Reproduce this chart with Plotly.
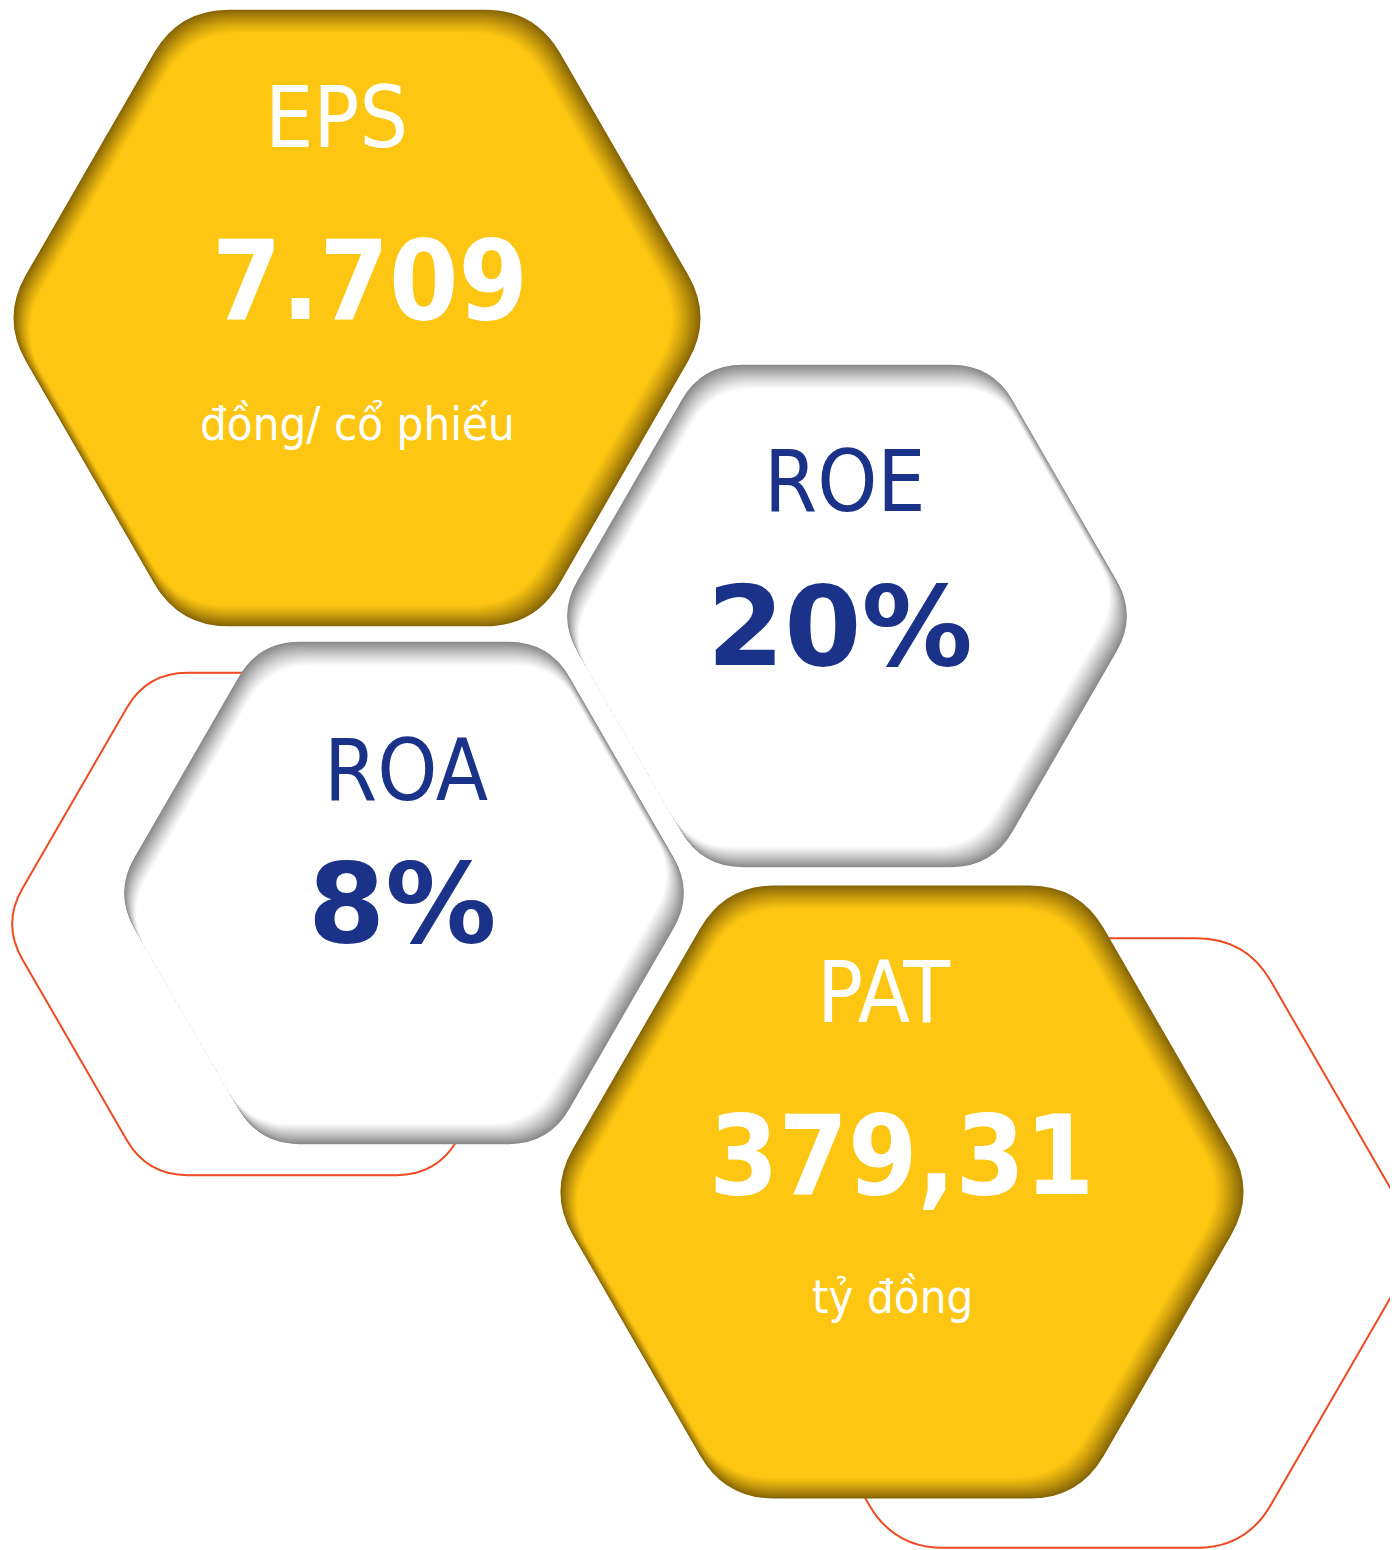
import math
import plotly.graph_objects as go

# indicator data
labels = ["EPS", "ROE", "ROA", "PAT"]
values = ["7.709", "20%", "8%", "379,31"]
units = ["đồng/ cổ phiếu", "", "", "tỷ đồng"]
styles = ["gold", "white", "white", "gold"]

# hexagon placement (page pixels, y pointing down)
hex_cx = [357, 847, 404, 902]
hex_cy = [318, 616, 893, 1192]
hex_r = [356, 290, 290, 354]

label_x = [336, 845, 406, 883]
label_y = [117, 481, 770, 992]
value_x = [370, 840, 402, 901]
value_y = [280, 626, 903, 1155]
value_font = ["DejaVu Sans Condensed", "DejaVu Sans", "DejaVu Sans", "DejaVu Sans Condensed"]
unit_x = [357, None, None, 892]
unit_y = [423, None, None, 1296]

outline_cx = [292, 1070]
outline_cy = [924, 1243]
outline_r = [290, 352]

W, H = 1398, 1550
PAD = 8  # the html body keeps an 8px margin around the figure
GOLD = (253, 198, 19)
GOLD_EDGE = (135, 102, 6)
WHITE = (255, 255, 255)
GREY_EDGE = (138, 138, 138)
BLUE = "#1b3289"
ORANGE = "#ee4b23"

# shadow depth per edge: lower-right, bottom, lower-left, upper-left, top, upper-right
SHADOW = {
    "gold": [25, 21, 8, 21, 23, 25],
    "white": [25, 21, 0, 21, 24, 6],
}


def hex_vertices(cx, cy, R):
    return [(cx + R * math.cos(math.radians(60 * i)),
             cy + R * math.sin(math.radians(60 * i))) for i in range(6)]


def inset(verts, depths):
    # move every edge inward by its own depth, then re-intersect neighbours
    lines = []
    for i in range(6):
        a = math.radians(30 + 60 * i)
        nx, ny = math.cos(a), math.sin(a)
        vx, vy = verts[i]
        lines.append((nx, ny, vx * nx + vy * ny - depths[i]))
    out = []
    for j in range(6):
        n1x, n1y, c1 = lines[j - 1]
        n2x, n2y, c2 = lines[j]
        det = n1x * n2y - n1y * n2x
        out.append(((c1 * n2y - c2 * n1y) / det, (n1x * c2 - n2x * c1) / det))
    return out


def rounded(verts, r):
    out = ""
    for i, (vx, vy) in enumerate(verts):
        px, py = verts[i - 1]
        nx, ny = verts[(i + 1) % 6]
        lp = math.hypot(px - vx, py - vy)
        ln = math.hypot(nx - vx, ny - vy)
        ax, ay = vx + (px - vx) * r / lp, vy + (py - vy) * r / lp
        bx, by = vx + (nx - vx) * r / ln, vy + (ny - vy) * r / ln
        out += ("M" if i == 0 else "L") + f"{ax:.2f},{ay:.2f}"
        out += f"Q{vx:.2f},{vy:.2f} {bx:.2f},{by:.2f}"
    return out + "Z"


def mix(c1, c2, t):
    return "rgb(%d,%d,%d)" % tuple(round(a + (b - a) * t) for a, b in zip(c1, c2))


shapes = []

for cx, cy, R in zip(outline_cx, outline_cy, outline_r):
    shapes.append(dict(type="path", path=rounded(hex_vertices(cx, cy, R), 0.14 * R),
                       line=dict(color=ORANGE, width=2), fillcolor="rgba(0,0,0,0)"))

N = 26
for cx, cy, R, st in zip(hex_cx, hex_cy, hex_r, styles):
    edge, fill = (GOLD_EDGE, GOLD) if st == "gold" else (GREY_EDGE, WHITE)
    base = hex_vertices(cx, cy, R)
    for k in range(N + 1):
        t = k / N
        verts = inset(base, [d * t for d in SHADOW[st]])
        shapes.append(dict(type="path", path=rounded(verts, 0.14 * R),
                           line=dict(width=0),
                           fillcolor=mix(edge, fill, 1 - (1 - t) ** 1.15)))

annotations = []
for i in range(len(labels)):
    col = "white" if styles[i] == "gold" else BLUE
    annotations.append(dict(x=label_x[i], y=label_y[i], text=labels[i], showarrow=False,
                            font=dict(family="DejaVu Sans Condensed", size=85, color=col)))
    annotations.append(dict(x=value_x[i], y=value_y[i], text="<b>" + values[i] + "</b>",
                            showarrow=False,
                            font=dict(family=value_font[i], size=111, color=col)))
    if units[i]:
        annotations.append(dict(x=unit_x[i], y=unit_y[i], text=units[i], showarrow=False,
                                font=dict(family="DejaVu Sans Condensed", size=47, color=col)))

fig = go.Figure(go.Scatter(x=[PAD, W], y=[PAD, H], mode="markers",
                           marker=dict(opacity=0), hoverinfo="skip", showlegend=False))
fig.update_layout(
    width=W - PAD, height=H - PAD,
    margin=dict(l=0, r=0, t=0, b=0),
    paper_bgcolor="white", plot_bgcolor="white",
    xaxis=dict(range=[PAD, W], visible=False, fixedrange=True),
    yaxis=dict(range=[H, PAD], visible=False, fixedrange=True),
    shapes=shapes,
    annotations=annotations,
)

fig.write_html("out.html")
